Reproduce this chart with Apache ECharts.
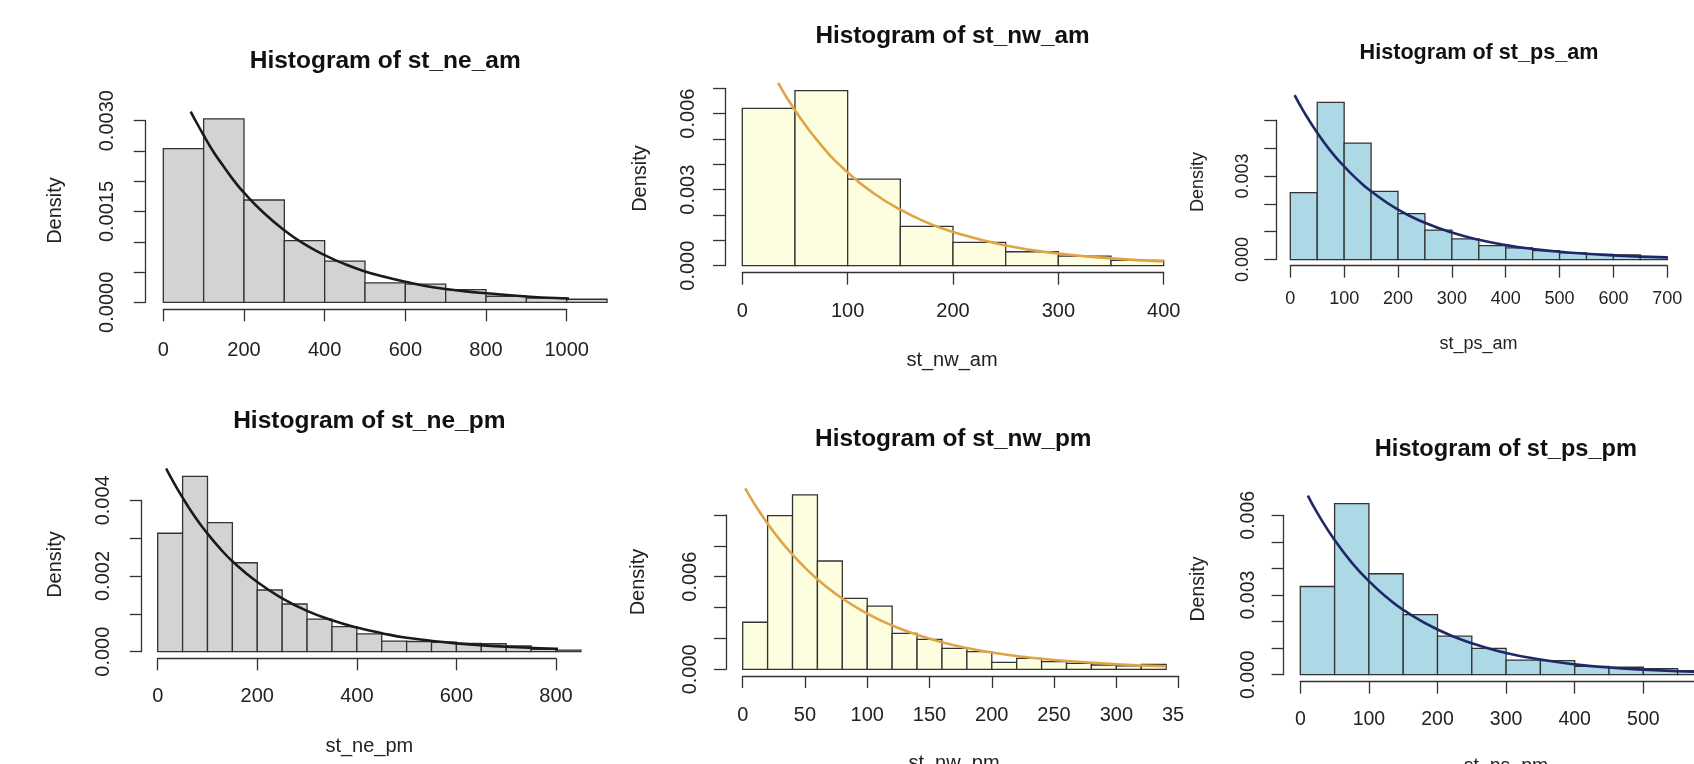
<!DOCTYPE html>
<html><head><meta charset="utf-8">
<script src="https://cdn.jsdelivr.net/npm/echarts@6/dist/echarts.min.js"></script>
<style>html,body{margin:0;padding:0;background:#fff;}#c{width:1694px;height:764px;}</style>
</head><body><div id="c"></div>
<script>
// ---------------- DATA ----------------
// st_ne_am
const neAmBins = [0,100,200,300,400,500,600,700,800,900,1000,1100];
const neAmDensity = [0.00254,0.00303,0.00169,0.00102,0.00068,0.00032,0.00030,0.00021,0.00010,0.00007,0.00005];
const neAmCurveX = [68,75,100,125,150,175,200,250,300,350,400,450,500,550,600,650,700,750,800,900,1000,1100];
const neAmCurveY = [0.00315,0.00306,0.00276,0.00248,0.00224,0.00201,0.00181,0.00147,0.00119,0.00096,0.00078,0.00063,0.00051,0.00042,0.00034,0.00027,0.00022,0.00018,0.00015,0.000096,0.000063,0.000041];
const neAmYLabels = ['0.0000','0.0015','0.0030'];

// st_nw_am
const nwAmBins = [0,50,100,150,200,250,300,350,400];
const nwAmDensity = [0.00621,0.00691,0.00342,0.00155,0.00092,0.00055,0.00038,0.00021];
const nwAmCurveX = [34,50,75,100,125,150,175,200,250,300,350,400];
const nwAmCurveY = [0.00721,0.00613,0.00475,0.00368,0.00285,0.00221,0.00171,0.00133,0.00080,0.00048,0.00029,0.00017];
const nwAmYLabels = ['0.000','0.003','0.006'];

// st_ps_am
const psAmBins = [0,50,100,150,200,250,300,350,400,450,500,550,600,650,700];
const psAmDensity = [0.00240,0.00564,0.00418,0.00245,0.00165,0.00106,0.00074,0.00050,0.00042,0.00032,0.00024,0.00019,0.00017,0.00010];
const psAmCurveX = [8,25,50,75,100,125,150,200,250,300,350,400,450,500,600,700];
const psAmCurveY = [0.00590,0.00531,0.00455,0.00389,0.00334,0.00286,0.00245,0.00179,0.00132,0.00097,0.00071,0.00052,0.00038,0.00028,0.00015,0.00008];
const psAmYLabels = ['0.000','0.003'];

// st_ne_pm
const nePmBins = [0,50,100,150,200,250,300,350,400,450,500,550,600,650,700,750,800,850];
const nePmDensity = [0.00313,0.00463,0.00341,0.00235,0.00163,0.00126,0.00086,0.00066,0.00047,0.00028,0.00027,0.00025,0.00022,0.00021,0.00015,0.00006,0.00004];
const nePmCurveX = [17,25,50,75,100,125,150,200,250,300,350,400,450,500,600,700,800,850];
const nePmCurveY = [0.00484,0.00464,0.00407,0.00356,0.00312,0.00273,0.00239,0.00184,0.00141,0.00108,0.00083,0.00064,0.00049,0.00037,0.00022,0.00013,0.000076,0.000059];
const nePmYLabels = ['0.000','0.002','0.004'];

// st_nw_pm
const nwPmBins = [0,20,40,60,80,100,120,140,160,180,200,220,240,260,280,300,320,340];
const nwPmDensity = [0.00305,0.00996,0.0113,0.00702,0.00460,0.00410,0.00233,0.00194,0.00136,0.00114,0.00045,0.00071,0.00050,0.00039,0.00028,0.00023,0.00032];
const nwPmCurveX = [2,10,20,30,40,50,60,70,80,100,120,140,160,180,200,225,250,300,340];
const nwPmCurveY = [0.01172,0.01064,0.00944,0.00837,0.00743,0.00659,0.00584,0.00518,0.00459,0.00361,0.00284,0.00224,0.00176,0.00138,0.00109,0.00081,0.00060,0.00033,0.00020];
const nwPmYLabels = ['0.000','0.006'];

// st_ps_pm
const psPmBins = [0,50,100,150,200,250,300,350,400,450,500,550,600];
const psPmDensity = [0.00332,0.00644,0.00380,0.00226,0.00145,0.00099,0.00055,0.00053,0.00031,0.00028,0.00023,0.00015];
const psPmCurveX = [11,25,50,75,100,125,150,200,250,300,350,400,450,500,550,600];
const psPmCurveY = [0.00674,0.00608,0.00507,0.00422,0.00352,0.00293,0.00244,0.00170,0.00118,0.00082,0.00057,0.00039,0.00027,0.00019,0.00013,0.00009];
const psPmYLabels = ['0.000','0.003','0.006'];

// ---------------- LAYOUT ----------------
const FONT = '"Liberation Sans", Arial, Helvetica, sans-serif';
const AXIS = '#333';
const TEXT = '#222';

const panels = [
  {title:'Histogram of st_ne_am', xName:'', bins:neAmBins, dens:neAmDensity, cx:neAmCurveX, cy:neAmCurveY, yl:neAmYLabels, dec:4,
   fill:'#d3d3d3', curve:'#1a1a1a',
   grid:{left:163.3, top:120.7, width:403.4, height:181.6}, xOff:7, yOff:17.6,
   xMax:1000, xInt:200, yMax:0.003, yInt:0.0005, font:20, tFont:24.5,
   tX:385.2, tY:61.7, dX:55, dY:210.5, nX:385, nY:400, yMargin:28.4, xMargin:30.7},
  {title:'Histogram of st_nw_am', xName:'st_nw_am', bins:nwAmBins, dens:nwAmDensity, cx:nwAmCurveX, cy:nwAmCurveY, yl:nwAmYLabels, dec:3,
   fill:'#fdfde0', curve:'#e0a446',
   grid:{left:742.3, top:88.3, width:421.4, height:177.4}, xOff:7, yOff:17.3,
   xMax:400, xInt:100, yMax:0.007, yInt:0.001, font:20, tFont:24.3,
   tX:952.5, tY:36.7, dX:640, dY:178.5, nX:952, nY:360, yMargin:27, xMargin:29},
  {title:'Histogram of st_ps_am', xName:'st_ps_am', bins:psAmBins, dens:psAmDensity, cx:psAmCurveX, cy:psAmCurveY, yl:psAmYLabels, dec:3,
   fill:'#add8e6', curve:'#1f2766',
   grid:{left:1290.3, top:120.2, width:377, height:139.4}, xOff:6, yOff:14,
   xMax:700, xInt:100, yMax:0.005, yInt:0.001, font:18, tFont:21.6,
   tX:1479, tY:52.7, dX:1198.4, dY:182, nX:1478.5, nY:344, yMargin:24.4, xMargin:24.4},
  {title:'Histogram of st_ne_pm', xName:'st_ne_pm', bins:nePmBins, dens:nePmDensity, cx:nePmCurveX, cy:nePmCurveY, yl:nePmYLabels, dec:3,
   fill:'#d3d3d3', curve:'#1a1a1a',
   grid:{left:157.7, top:500.3, width:398.3, height:151.4}, xOff:6.6, yOff:16,
   xMax:800, xInt:200, yMax:0.004, yInt:0.001, font:20, tFont:24.5,
   tX:369.3, tY:421.7, dX:55, dY:564.5, nX:369.3, nY:746.7, yMargin:28.4, xMargin:28.4},
  {title:'Histogram of st_nw_pm', xName:'st_nw_pm', bins:nwPmBins, dens:nwPmDensity, cx:nwPmCurveX, cy:nwPmCurveY, yl:nwPmYLabels, dec:3,
   fill:'#fdfde0', curve:'#e0a446',
   grid:{left:742.7, top:515, width:435.9, height:154.3}, xOff:6.7, yOff:16.7,
   xMax:350, xInt:50, yMax:0.010, yInt:0.002, font:20, tFont:24.4,
   tX:953.3, tY:439.3, dX:638.3, dY:582, nX:954, nY:763.5, yMargin:26, xMargin:29},
  {title:'Histogram of st_ps_pm', xName:'st_ps_pm', bins:psPmBins, dens:psPmDensity, cx:psPmCurveX, cy:psPmCurveY, yl:psPmYLabels, dec:3,
   fill:'#add8e6', curve:'#1f2766',
   grid:{left:1300.3, top:515.3, width:411.6, height:159.4}, xOff:7, yOff:16.7,
   xMax:600, xInt:100, yMax:0.006, yInt:0.001, font:19.5, tFont:23.6,
   tX:1505.9, tY:449.5, dX:1198.4, dY:589, nX:1506, nY:767, yMargin:25.3, xMargin:27.7}
];

const grid = [], xAxis = [], yAxis = [], series = [], elements = [];
panels.forEach((p, i) => {
  grid.push(Object.assign({containLabel:false, outerBoundsMode:'none'}, p.grid));
  xAxis.push({
    type:'value', gridIndex:i, min:0, max:p.xMax, interval:p.xInt, offset:p.xOff,
    axisLine:{show:true, onZero:false, lineStyle:{color:AXIS, width:1.3}},
    axisTick:{show:true, inside:false, length:12, lineStyle:{color:AXIS, width:1.3}},
    axisLabel:{show:true, margin:p.xMargin, fontSize:p.font, lineHeight:p.font, fontFamily:FONT, color:TEXT,
      showMinLabel:true, showMaxLabel:true, hideOverlap:false, formatter:v => String(Math.round(v))},
    splitLine:{show:false}
  });
  const yl = p.yl, dec = p.dec;
  yAxis.push({
    type:'value', gridIndex:i, min:0, max:p.yMax, interval:p.yInt, offset:p.yOff, position:'left',
    axisLine:{show:true, onZero:false, lineStyle:{color:AXIS, width:1.3}},
    axisTick:{show:true, inside:false, length:12, lineStyle:{color:AXIS, width:1.3}},
    axisLabel:{show:true, rotate:90, margin:p.yMargin, fontSize:p.font, lineHeight:p.font, fontFamily:FONT, color:TEXT,
      showMinLabel:true, showMaxLabel:true, hideOverlap:false,
      formatter:v => { const s = v.toFixed(dec); return yl.indexOf(s) >= 0 ? s : ''; }},
    splitLine:{show:false}
  });
  const fill = p.fill;
  series.push({
    type:'custom', xAxisIndex:i, yAxisIndex:i, clip:false, z:2,
    data:p.dens.map((d, k) => [p.bins[k], p.bins[k+1], d]),
    encode:{x:[0,1], y:2},
    renderItem:(params, api) => {
      const a = api.coord([api.value(0), api.value(2)]);
      const b = api.coord([api.value(1), 0]);
      return {type:'rect', shape:{x:a[0], y:a[1], width:b[0]-a[0], height:b[1]-a[1]},
        style:{fill:fill, stroke:'#333', lineWidth:1.3}};
    }
  });
  series.push({
    type:'line', xAxisIndex:i, yAxisIndex:i, clip:false, smooth:true, showSymbol:false, symbol:'none', z:3,
    data:p.cx.map((x, k) => [x, p.cy[k]]),
    lineStyle:{color:p.curve, width:2.6}, silent:true
  });
  elements.push({type:'text', x:p.tX, y:p.tY, z:50,
    style:{text:p.title, font:'bold ' + p.tFont + 'px ' + FONT, fill:'#111', align:'center', verticalAlign:'middle', textAlign:'center', textVerticalAlign:'middle'}});
  elements.push({type:'text', x:p.dX, y:p.dY, rotation:Math.PI/2, z:50,
    style:{text:'Density', font:p.font + 'px ' + FONT, fill:TEXT, align:'center', verticalAlign:'middle', textAlign:'center', textVerticalAlign:'middle'}});
  if (p.xName) {
    elements.push({type:'text', x:p.nX, y:p.nY, z:50,
      style:{text:p.xName, font:p.font + 'px ' + FONT, fill:TEXT, align:'center', verticalAlign:'middle', textAlign:'center', textVerticalAlign:'middle'}});
  }
});
// the st_nw_pm panel is cropped just after "35" in the reference
elements.push({type:'rect', shape:{x:1184.5, y:698, width:12, height:36}, style:{fill:'#fff'}, z:60});

const chart = echarts.init(document.getElementById('c'), null, {renderer:'canvas'});
chart.setOption({
  animation:false,
  backgroundColor:'#fff',
  textStyle:{fontFamily:FONT},
  grid, xAxis, yAxis, series,
  graphic:{elements}
});
</script></body></html>
